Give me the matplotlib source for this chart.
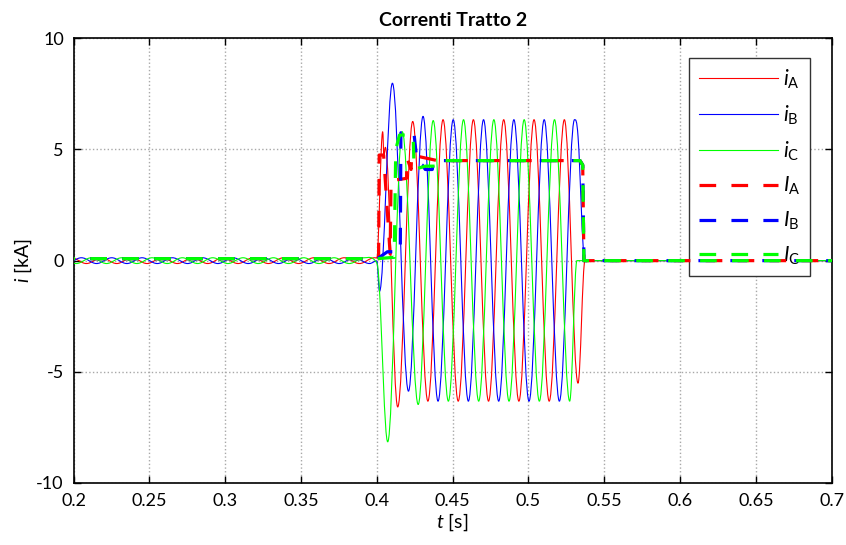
import numpy as np
import matplotlib
matplotlib.use('Agg')
import matplotlib.pyplot as plt
from matplotlib.path import Path
from matplotlib.patches import PathPatch
from matplotlib.lines import Line2D
from matplotlib.ticker import FormatStrFormatter, MultipleLocator

plt.rcParams['font.family'] = ['Lato', 'DejaVu Sans']
plt.rcParams['mathtext.fontset'] = 'custom'
plt.rcParams['mathtext.rm'] = 'Lato'
plt.rcParams['mathtext.it'] = 'Lato:italic'
plt.rcParams['lines.scale_dashes'] = False

# --- instantaneous currents: key points (extrema / breakpoints) [s], [kA]
tA = [0.1985, 0.2085, 0.2185, 0.2285, 0.2385, 0.2485, 0.2585, 0.2685, 0.2785, 0.2885,
      0.2985, 0.3085, 0.3185, 0.3285, 0.3385, 0.3485, 0.3585, 0.3685, 0.3785, 0.3885,
      0.3985, 0.4000, 0.4039, 0.4047, 0.4056, 0.4138, 0.4237, 0.4337, 0.4437, 0.4537,
      0.4637, 0.4737, 0.4837, 0.4937, 0.5037, 0.5137, 0.5237, 0.5327, 0.5373, 0.7100]
iA = [0.13, -0.13, 0.13, -0.13, 0.13, -0.13, 0.13, -0.13, 0.13, -0.13,
      0.13, -0.13, 0.13, -0.13, 0.13, -0.13, 0.13, -0.13, 0.13, -0.13,
      0.13, 0.12, 5.80, 4.70, 5.10, -6.58, 6.26, -6.32, 6.34, -6.32,
      6.34, -6.32, 6.34, -6.32, 6.34, -6.32, 6.34, -5.51, 0.0, 0.0]

tB = [0.1952, 0.2052, 0.2152, 0.2252, 0.2352, 0.2452, 0.2552, 0.2652, 0.2752, 0.2852,
      0.2952, 0.3052, 0.3152, 0.3252, 0.3352, 0.3452, 0.3552, 0.3652, 0.3752, 0.3852,
      0.3952, 0.4000, 0.4018, 0.4103, 0.4209, 0.4305, 0.4404, 0.4504, 0.4604, 0.4704,
      0.4804, 0.4904, 0.5004, 0.5104, 0.5204, 0.5304, 0.5327, 0.5372, 0.7100]
iB = [-0.13, 0.13, -0.13, 0.13, -0.13, 0.13, -0.13, 0.13, -0.13, 0.13,
      -0.13, 0.13, -0.13, 0.13, -0.13, 0.13, -0.13, 0.13, -0.13, 0.13,
      -0.13, -0.01, -1.38, 7.98, -5.87, 6.49, -6.32, 6.34, -6.32, 6.34,
      -6.32, 6.34, -6.32, 6.34, -6.32, 6.34, 5.60, 0.0, 0.0]

tC = [0.1918, 0.2018, 0.2118, 0.2218, 0.2318, 0.2418, 0.2518, 0.2618, 0.2718, 0.2818,
      0.2918, 0.3018, 0.3118, 0.3218, 0.3318, 0.3418, 0.3518, 0.3618, 0.3718, 0.3818,
      0.3918, 0.4000, 0.4015, 0.4072, 0.4168, 0.4273, 0.4372, 0.4472, 0.4572, 0.4672,
      0.4772, 0.4872, 0.4972, 0.5072, 0.5172, 0.5272, 0.5320, 0.7100]
iC = [0.13, -0.13, 0.13, -0.13, 0.13, -0.13, 0.13, -0.13, 0.13, -0.13,
      0.13, -0.13, 0.13, -0.13, 0.13, -0.13, 0.13, -0.13, 0.13, -0.13,
      0.13, -0.11, -1.00, -8.15, 5.80, -6.47, 6.30, -6.32, 6.34, -6.32,
      6.34, -6.32, 6.34, -6.32, 6.34, -6.32, 0.0, 0.0]

# --- rms values
TA = [0.19, 0.4012, 0.4016, 0.4045, 0.4088, 0.4094, 0.4196, 0.4200, 0.4226, 0.4230,
      0.4400, 0.5340, 0.5358, 0.5366, 0.71]
IA = [0.09, 0.09, 4.75, 4.75, 0.30, 3.60, 3.70, 4.60, 4.10, 4.75,
      4.50, 4.50, 4.30, 0.0, 0.0]

TB = [0.19, 0.4005, 0.4070, 0.4155, 0.4159, 0.4245, 0.4265, 0.4300, 0.4320, 0.4366,
      0.4375, 0.5340, 0.5358, 0.5366, 0.71]
IB = [0.09, 0.09, 0.40, 0.40, 5.75, 5.75, 4.45, 4.30, 4.10, 4.10,
      4.50, 4.50, 4.30, 0.0, 0.0]

TC = [0.19, 0.4005, 0.4115, 0.4125, 0.4150, 0.4240, 0.4246, 0.4320, 0.4420, 0.4430,
      0.5340, 0.5358, 0.5366, 0.71]
IC = [0.09, 0.09, 0.15, 5.00, 5.65, 5.65, 4.10, 4.25, 4.25, 4.50,
      4.50, 4.30, 0.0, 0.0]

labels = ['$i_{\\mathrm{A}}$', '$i_{\\mathrm{B}}$', '$i_{\\mathrm{C}}$',
          '$I_{\\mathrm{A}}$', '$I_{\\mathrm{B}}$', '$I_{\\mathrm{C}}$']
colors = ['#ff0000', '#0000ff', '#00ff00']


def smooth_path(t, v):
    # cubic bezier through key points, flat at the extrema
    t = np.asarray(t, float)
    v = np.asarray(v, float)
    n = len(t)
    slope = np.zeros(n)
    for k in range(1, n - 1):
        if (v[k] - v[k - 1]) * (v[k + 1] - v[k]) > 0:
            slope[k] = (v[k + 1] - v[k - 1]) / (t[k + 1] - t[k - 1])
    c = 0.3634
    verts = [(t[0], v[0])]
    codes = [Path.MOVETO]
    for k in range(n - 1):
        h = t[k + 1] - t[k]
        verts += [(t[k] + c * h, v[k] + slope[k] * c * h),
                  (t[k + 1] - c * h, v[k + 1] - slope[k + 1] * c * h),
                  (t[k + 1], v[k + 1])]
        codes += [Path.CURVE4] * 3
    return Path(verts, codes)


fig = plt.figure(figsize=(8.46, 5.45), dpi=100)
ax = fig.add_axes([0.0869, 0.1138, 0.8962, 0.8159])

thin_lw = 0.8
dash_lw = 2.3
dash_pat = (0, (12, 11))

for k, (t, v) in enumerate([(tA, iA), (tB, iB), (tC, iC)]):
    ax.add_patch(PathPatch(smooth_path(t, v), fill=False, edgecolor=colors[k],
                           lw=thin_lw, zorder=3 + k))
for k, (t, v) in enumerate([(TA, IA), (TB, IB), (TC, IC)]):
    ax.plot(t, v, color=colors[k], lw=dash_lw, linestyle=dash_pat, zorder=6 + k)

ax.set_xlim(0.2, 0.7)
ax.set_ylim(-10, 10)
ax.xaxis.set_major_locator(MultipleLocator(0.05))
ax.yaxis.set_major_locator(MultipleLocator(5))
ax.xaxis.set_major_formatter(FormatStrFormatter('%g'))
ax.yaxis.set_major_formatter(FormatStrFormatter('%g'))
ax.grid(True, color='#a8a8a8', linestyle=':', linewidth=1.0)
ax.set_axisbelow(True)
ax.tick_params(direction='in', top=True, right=True, length=5, width=1.0,
               labelsize=13, pad=7)
for s in ax.spines.values():
    s.set_linewidth(1.2)

ax.set_title('Correnti Tratto 2', fontsize=14, fontweight='bold', pad=9)
ax.set_xlabel('$\\mathit{t}$ [s]', fontsize=14, labelpad=2)
ax.set_ylabel('$\\mathit{i}$ [kA]', fontsize=14, labelpad=2)

handles = [Line2D([], [], color=colors[k], lw=thin_lw) for k in range(3)]
handles += [Line2D([], [], color=colors[k], lw=dash_lw, linestyle=dash_pat) for k in range(3)]
leg = ax.legend(handles, labels, loc='upper right', bbox_to_anchor=(0.9714, 0.955),
                borderaxespad=0, fontsize=15, handlelength=3.8, handletextpad=0.25,
                labelspacing=0.6, frameon=True, fancybox=False, framealpha=1,
                edgecolor='#333333', borderpad=0.45)
leg.get_frame().set_linewidth(1.0)

fig.savefig('out.png', dpi=100)
